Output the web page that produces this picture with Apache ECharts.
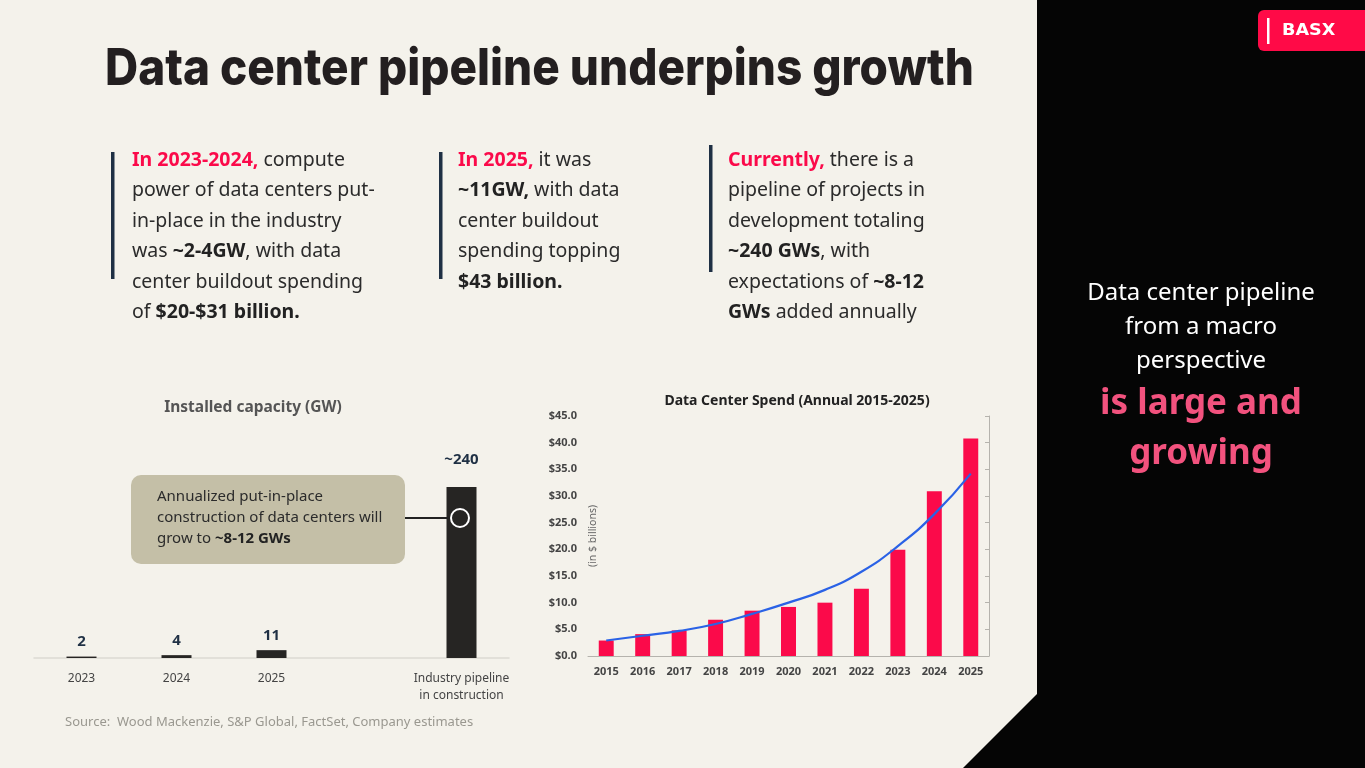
<!DOCTYPE html>
<html>
<head>
<meta charset="utf-8">
<script src="https://cdn.jsdelivr.net/npm/echarts@6/dist/echarts.min.js"></script>
<style>
  html, body { margin: 0; padding: 0; background: #f4f2eb; }
  #main { width: 1365px; height: 768px; }
</style>
</head>
<body>
<div id="main"></div>
<script>
// installed capacity (GW)
var capCats = ['2023', '2024', '2025', '', 'Industry pipeline\nin construction'];
var capValues = [2, 4, 11, null, 240];
var capLabels = ['2', '4', '11', '', '~240'];

// data center spend ($ billions)
var spendYears = ['2015', '2016', '2017', '2018', '2019', '2020', '2021', '2022', '2023', '2024', '2025'];
var spendValues = [2.9, 4.1, 4.8, 6.8, 8.5, 9.2, 10.0, 12.6, 19.9, 30.9, 40.8];
var spendTrend = [2.9, 3.8, 4.7, 6.0, 7.9, 10.0, 12.4, 15.8, 20.6, 26.6, 34.2];

var red = '#fb0a4a';
var navy = '#1f3044';
var bodyFont = 'Noto Sans';

var myChart = echarts.init(document.getElementById('main'));

function para(x, y, text, rich) {
    return {
        type: 'text', left: x, top: y,
        style: {
            text: text,
            font: '19.5px "' + bodyFont + '"',
            fill: '#2b2b2b',
            lineHeight: 30.5,
            rich: rich
        }
    };
}
var richP = {
    r: { fill: red, fontWeight: 'bold', fontSize: 19.5, fontFamily: bodyFont, lineHeight: 30.5 },
    b: { fill: '#222', fontWeight: 'bold', fontSize: 19.5, fontFamily: bodyFont, lineHeight: 30.5 }
};

var option = {
    backgroundColor: '#f4f2eb',
    animation: false,
    textStyle: { fontFamily: bodyFont },
    title: [{
        text: 'Installed capacity (GW)',
        left: 248, top: 395, textAlign: 'center',
        textStyle: { fontSize: 15.5, fontWeight: 'bold', color: '#555' }
    }, {
        text: 'Data Center Spend (Annual 2015-2025)',
        left: 792, top: 389, textAlign: 'center',
        textStyle: { fontSize: 14, fontWeight: 'bold', color: '#222' }
    }],
    grid: [
        { left: 34, width: 475, top: 487, bottom: 110 },
        { left: 588, right: 376, top: 416, bottom: 112 }
    ],
    xAxis: [{
        type: 'category', gridIndex: 0, data: capCats,
        axisLine: { lineStyle: { color: '#dcdad3', width: 1.5 } },
        axisTick: { show: false },
        axisLabel: { color: '#444', fontSize: 12, margin: 12, lineHeight: 17, interval: 0 }
    }, {
        type: 'category', gridIndex: 1, data: spendYears,
        axisLine: { lineStyle: { color: '#b5b3ad' } },
        axisTick: { show: false },
        axisLabel: { color: '#444', fontSize: 11, fontWeight: 'bold', margin: 10, interval: 0 }
    }],
    yAxis: [{
        type: 'value', gridIndex: 0, min: 0, max: 240, show: false
    }, {
        type: 'value', gridIndex: 1, min: 0, max: 45, interval: 5,
        name: '(in $ billions)', nameLocation: 'middle', nameGap: -11, nameRotate: 90,
        nameMoveOverlap: false,
        nameTextStyle: { color: '#666', fontSize: 10.5 },
        axisLine: { show: false }, axisTick: { show: false },
        splitLine: { show: false },
        axisLabel: {
            color: '#444', fontSize: 11, fontWeight: 'bold', margin: 11,
            formatter: function (v) { return '$' + v.toFixed(1); }
        }
    }, {
        type: 'value', gridIndex: 1, position: 'right', min: 0, max: 45, interval: 5,
        axisLine: { show: true, lineStyle: { color: '#b5b3ad' } },
        axisTick: { show: true, inside: true, length: 4, lineStyle: { color: '#b5b3ad' } },
        axisLabel: { show: false }, splitLine: { show: false }
    }],
    series: [{
        type: 'bar', xAxisIndex: 0, yAxisIndex: 0,
        data: capValues.map(function (v, i) {
            return {
                value: v,
                label: { distance: i === 4 ? 20 : 7 }
            };
        }),
        barWidth: 30,
        itemStyle: { color: '#262523' },
        label: {
            show: true, position: 'top', color: navy, fontSize: 15, fontWeight: 'bold',
            formatter: function (p) { return capLabels[p.dataIndex]; }
        }
    }, {
        type: 'bar', xAxisIndex: 1, yAxisIndex: 1,
        data: spendValues, barWidth: '41%',
        itemStyle: { color: red }
    }, {
        type: 'line', xAxisIndex: 1, yAxisIndex: 1,
        data: spendTrend, smooth: true, symbol: 'none',
        lineStyle: { color: '#2a62e6', width: 2.2 }, z: 5
    }],
    graphic: [
        // black side panel
        {
            type: 'polygon', z: 0,
            shape: { points: [[1037, 0], [1365, 0], [1365, 768], [963, 768], [1037, 694]] },
            style: { fill: '#050505' }
        },
        // logo
        {
            type: 'rect', shape: { x: 1258, y: 10, width: 120, height: 41, r: 6 },
            style: { fill: '#ff0a47' }
        },
        {
            type: 'rect', shape: { x: 1267, y: 18, width: 2.5, height: 26 },
            style: { fill: '#fff' }
        },
        {
            type: 'text', x: 1282, y: 31, scaleX: 1.1,
            style: { text: 'BASX', font: 'bold 16px "DejaVu Sans"', fill: '#fff', verticalAlign: 'middle' }
        },
        // main title
        {
            type: 'text', x: 105, y: 44, scaleX: 0.9,
            style: { text: 'Data center pipeline underpins growth', font: '800 51px Inter', fill: '#231f20', verticalAlign: 'top' }
        },
        // paragraph bars
        { type: 'rect', shape: { x: 111, y: 152, width: 3.5, height: 127 }, style: { fill: navy } },
        { type: 'rect', shape: { x: 439, y: 152, width: 3.5, height: 127 }, style: { fill: navy } },
        { type: 'rect', shape: { x: 709, y: 145, width: 3.5, height: 127 }, style: { fill: navy } },
        para(132, 145, '{r|In 2023-2024,} compute\npower of data centers put-\nin-place in the industry\nwas {b|~2-4GW}, with data\ncenter buildout spending\nof {b|$20-$31 billion.}', richP),
        para(458, 145, '{r|In 2025,} it was\n{b|~11GW,} with data\ncenter buildout\nspending topping\n{b|$43 billion.}', richP),
        para(728, 145, '{r|Currently,} there is a\npipeline of projects in\ndevelopment totaling\n{b|~240 GWs}, with\nexpectations of {b|~8-12}\n{b|GWs} added annually', richP),
        // right panel text
        {
            type: 'text', x: 1201, y: 276,
            style: {
                text: 'Data center pipeline\nfrom a macro\nperspective', align: 'center', verticalAlign: 'top',
                font: '24px "' + bodyFont + '"', fill: '#fff', lineHeight: 34
            }
        },
        {
            type: 'text', x: 1201, y: 379,
            style: {
                text: 'is large and\ngrowing', align: 'center', verticalAlign: 'top',
                font: 'bold 35px "' + bodyFont + '"', fill: '#f2527e', lineHeight: 50
            }
        },
        // callout
        {
            type: 'rect', shape: { x: 131, y: 475, width: 274, height: 89, r: 10 },
            style: { fill: '#c4bfa7' }
        },
        {
            type: 'text', left: 157, top: 486,
            style: {
                text: 'Annualized put-in-place\nconstruction of data centers will\ngrow to {b|~8-12 GWs}',
                font: '15px "' + bodyFont + '"', fill: '#2b2b2b', lineHeight: 21,
                rich: { b: { fontWeight: 'bold', fontSize: 15, fontFamily: bodyFont, fill: '#222', lineHeight: 21 } }
            }
        },
        {
            type: 'line', z: 20, shape: { x1: 405, y1: 518, x2: 450, y2: 518 },
            style: { stroke: '#222', lineWidth: 2 }
        },
        {
            type: 'circle', z: 20, shape: { cx: 460, cy: 518, r: 9 },
            style: { fill: 'none', stroke: '#fff', lineWidth: 2 }
        },
        // source
        {
            type: 'text', left: 65, top: 716,
            style: {
                text: 'Source:  Wood Mackenzie, S&P Global, FactSet, Company estimates',
                font: '13px "' + bodyFont + '"', fill: '#9a9890'
            }
        }
    ]
};
myChart.setOption(option);
</script>
</body>
</html>
